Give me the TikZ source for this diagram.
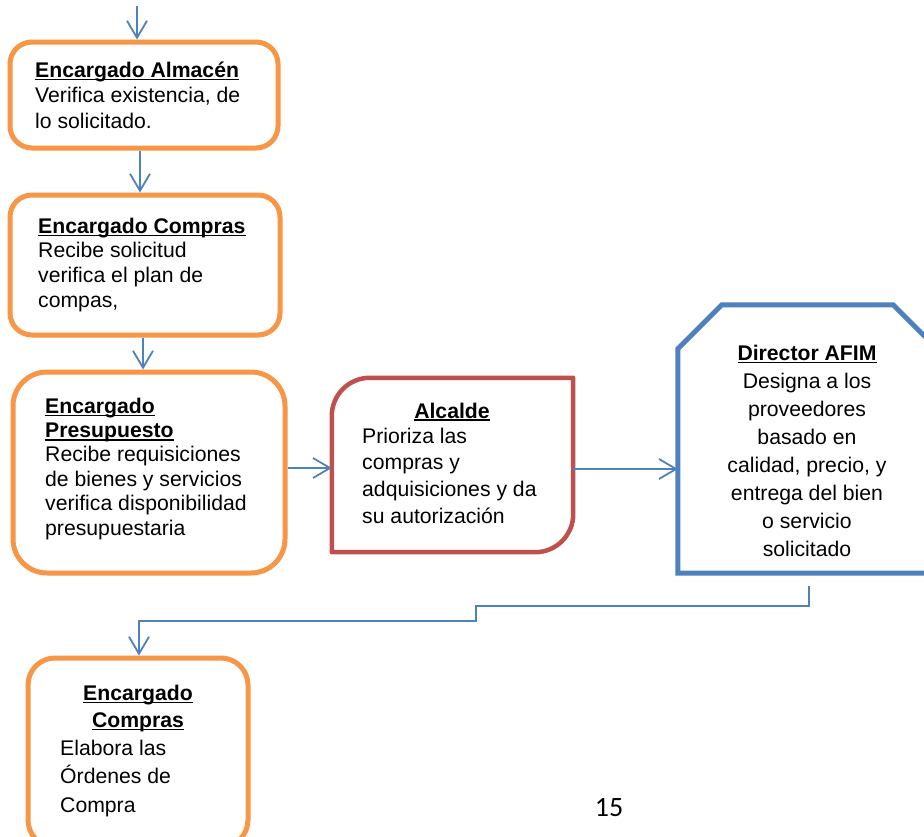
\documentclass[tikz,border=0pt]{standalone}
\usepackage{fontspec}
\setmainfont{Liberation Sans}
\newfontfamily\pagefont{Carlito}
\usetikzlibrary{arrows.meta,calc}
\definecolor{boxorange}{HTML}{F79646}
\definecolor{boxred}{HTML}{C0504D}
\definecolor{boxblue}{HTML}{4F81BD}
% bold heading with a heavy underline
\newcommand\hdr[1]{\setbox0\hbox{\bfseries #1}\rlap{\rule[-3.2pt]{\wd0}{1.8pt}}\box0}
\begin{document}
\begin{tikzpicture}[x=1pt,y=-1pt,
  obox/.style={draw=boxorange, line width=5pt, rounded corners=#1, inner sep=0pt},
  frame/.style={draw=none, inner sep=0pt},
  txt/.style={inner sep=0pt, align=left, anchor=north west,
    font=\fontsize{21.2}{#1}\selectfont},
  ctxt/.style={inner sep=0pt, align=center, anchor=north,
    font=\fontsize{21.2}{#1}\selectfont},
  conn/.style={draw=boxblue, line width=1.8pt,
    -{Straight Barb[length=17pt,width=20pt]}},
  line/.style={draw=boxblue, line width=1.8pt}
]
\useasboundingbox (0,0) rectangle (924,836);
\fill[white] (0,0) rectangle (924,836);

% process boxes
\node[obox=22pt, minimum width=268pt, minimum height=106pt] (b1) at (144,95) {};
\node[obox=22pt, minimum width=270pt, minimum height=140pt] (b2) at (145,265) {};
\node[obox=34pt, minimum width=272pt, minimum height=201pt] (b3) at (149,472.5) {};
\node[frame, minimum width=241pt, minimum height=174pt] (b4) at (452.5,465) {};
\node[frame, minimum width=259pt, minimum height=268pt] (b5) at (807.5,439) {};
\node[obox=27pt, minimum width=220pt, minimum height=189pt] (b6) at (138,752.5) {};

% Alcalde: rounded top-left and bottom-right corners
\draw[draw=boxred, line width=4.5pt, line join=round]
  (b4.south west) -- ([yshift=-38pt]b4.north west)
  .. controls ([yshift=-17pt]b4.north west) and ([xshift=17pt]b4.north west) ..
  ([xshift=38pt]b4.north west) -- (b4.north east) -- ([yshift=38pt]b4.south east)
  .. controls ([yshift=17pt]b4.south east) and ([xshift=-17pt]b4.south east) ..
  ([xshift=-38pt]b4.south east) -- cycle;

% Director AFIM: chamfered top corners
\draw[draw=boxblue, line width=5pt, line join=miter]
  (b5.south west) -- ([yshift=-44pt]b5.north west) -- ([xshift=44pt]b5.north west)
  -- ([xshift=-44pt]b5.north east) -- ([yshift=-44pt]b5.north east)
  -- (b5.south east) -- cycle;

% texts
\node[txt=25.5] (t1) at (35,59.15) {\strut\hdr{Encargado Almacén}\\Verifica existencia, de\\lo solicitado.};
\node[txt=24.7] (t2) at (38,215.7) {\strut\hdr{Encargado Compras}\\Recibe solicitud\\verifica el plan de\\compas,};
\node[txt=24.4] (t3) at (45,395.9) {\strut\hdr{Encargado}\\\hdr{Presupuesto}\\Recibe requisiciones\\de bienes y servicios\\verifica disponibilidad\\presupuestaria};
\node[anchor=base, inner sep=0pt, font=\fontsize{21.2}{25}\selectfont] (h4) at (452,418) {\hdr{Alcalde}};
\node[txt=26.7] (t4) at (362,424.3) {\strut Prioriza las\\compras y\\adquisiciones y da\\su autorización};
\node[ctxt=28] (t5) at (807,340.4) {\strut\hdr{Director AFIM}\\Designa a los\\proveedores\\basado en\\calidad, precio, y\\entrega del bien\\o servicio\\solicitado};
\node[ctxt=27] (h6) at (138,681.1) {\strut\hdr{Encargado}\\\hdr{Compras}};
\node[txt=28.5] (t6) at (60,735.05) {\strut Elabora las\\Órdenes de\\Compra};

% page number
\node[anchor=base, inner sep=0pt, font=\pagefont\fontsize{28}{32}\selectfont] (pg) at (609,816) {15};

% connectors
\coordinate (top) at (137,6);
\draw[conn] (top) -- (top |- b1.north);
\draw[conn] ([xshift=-4pt]b1.south) -- ([xshift=-5pt]b2.north);
\draw[conn] ([xshift=-2pt]b2.south) -- ([xshift=-6pt]b3.north);
\draw[conn] ([yshift=4.5pt]b3.east) -- ([yshift=-3pt]b4.west);
\draw[conn] ([yshift=-4pt]b4.east) -- ([yshift=-30pt]b5.west);
\coordinate (dout) at (809,586);
\draw[conn] (dout) -- (809,606) -| (476,621) -| ([xshift=1pt]b6.north);
\end{tikzpicture}
\end{document}
